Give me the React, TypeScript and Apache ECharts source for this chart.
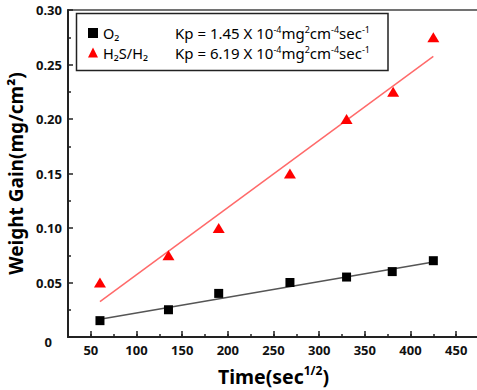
import React, { useEffect, useRef } from "react";
import * as echarts from "echarts";

const seriesNames = ["O\u2082", "H\u2082S/H\u2082"];
const kpCoefficients = ["1.45", "6.19"];

const o2Time = [60, 135, 190, 268, 330, 380, 425];
const o2Gain = [0.015, 0.025, 0.04, 0.05, 0.055, 0.06, 0.07];
const h2sTime = [60, 135, 190, 268, 330, 381, 425];
const h2sGain = [0.05, 0.075, 0.1, 0.15, 0.2, 0.225, 0.275];

const o2FitTime = [60, 425];
const o2FitGain = [0.0162, 0.0688];
const h2sFitTime = [60, 425];
const h2sFitGain = [0.0325, 0.2575];

const xMajorTicks = [50, 100, 150, 200, 250, 300, 350, 400, 450];

const FONT = "'Noto Sans', 'DejaVu Sans', sans-serif";

export default function App() {
  const ref = useRef<HTMLDivElement>(null);
  useEffect(() => {
    if (!ref.current) return;
    const chart = echarts.init(ref.current, null, { renderer: "svg" });
    const zip = (a: number[], b: number[]) => a.map((v, i) => [v, b[i]]);
    const kpMap: Record<string, string> = {};
    seriesNames.forEach((n, i) => (kpMap[n] = kpCoefficients[i]));
    const tok = { fontFamily: FONT, color: "#000", lineHeight: 16 };
    chart.setOption({
      animation: false,
      backgroundColor: "#fff",
      textStyle: { fontFamily: FONT },
      grid: {
        left: 68,
        top: 10,
        width: 411,
        height: 327,
        show: true,
        borderColor: "#444",
        borderWidth: 1.5,
        containLabel: false,
        outerBoundsMode: "none",
      },
      legend: {
        orient: "vertical",
        left: 88,
        top: 25,
        padding: 0,
        itemWidth: 10,
        itemHeight: 10,
        itemGap: 4,
        data: seriesNames,
        formatter: (name: string) =>
          `{n|${name}}{k|Kp = ${kpMap[name]} X 10}{s|-4}{k|mg}{s|2}{k|cm}{s|-4}{k|sec}{s|-1}`,
        textStyle: {
          fontFamily: FONT,
          fontSize: 14,
          color: "#000",
          rich: {
            n: { ...tok, width: 72, fontSize: 14.5 },
            k: { ...tok, fontSize: 15 },
            s: { ...tok, fontSize: 9, verticalAlign: "top", lineHeight: 16 },
          },
        },
      },
      graphic: [
        {
          type: "rect",
          shape: { x: 76.5, y: 13.5, width: 311.5, height: 57 },
          style: { fill: "none", stroke: "#222", lineWidth: 1.5 },
          z: 10,
        },
      ],
      xAxis: [
        {
          type: "value",
          min: 25,
          max: 475,
          interval: 25,
          name: "{t|Time(sec}{s|1/2}{t|)}",
          nameLocation: "middle",
          nameGap: 27,
          nameTextStyle: {
            rich: {
              t: { fontSize: 19.5, fontWeight: "bold", fontFamily: FONT, color: "#000", lineHeight: 24 },
              s: { fontSize: 12, fontWeight: "bold", fontFamily: FONT, color: "#000", lineHeight: 24, verticalAlign: "top" },
            },
          },
          axisLine: { show: true, lineStyle: { color: "#222", width: 2 } },
          axisTick: { show: true, inside: true, length: 3, lineStyle: { color: "#222", width: 1.5 } },
          axisLabel: {
            margin: 6,
            fontSize: 13,
            fontWeight: "bold",
            color: "#111",
            fontFamily: FONT,
            formatter: (v: number) => (v % 50 === 0 ? String(v) : ""),
          },
          splitLine: { show: false },
        },
        {
          type: "value",
          position: "bottom",
          min: 25,
          max: 475,
          interval: 25,
          axisLine: { show: false },
          axisTick: {
            show: true,
            inside: true,
            length: 6,
            customValues: xMajorTicks,
            lineStyle: { color: "#222", width: 1.5 },
          },
          axisLabel: { show: false },
          splitLine: { show: false },
        },
      ],
      yAxis: {
        type: "value",
        min: 0,
        max: 0.3,
        interval: 0.05,
        name: "Weight Gain(mg/cm\u00B2)",
        nameLocation: "middle",
        nameGap: 36,
        nameRotate: 90,
        nameTextStyle: { fontSize: 19, fontWeight: "bold", color: "#000", fontFamily: FONT },
        axisLine: { show: true, lineStyle: { color: "#222", width: 2 } },
        axisTick: { show: true, inside: true, length: 5, lineStyle: { color: "#222", width: 1.5 } },
        minorTick: { show: true, splitNumber: 2, length: 3, lineStyle: { color: "#222", width: 1.5 } },
        axisLabel: {
          margin: 6,
          fontSize: 13,
          fontWeight: "bold",
          color: "#111",
          fontFamily: FONT,
          formatter: (v: number) => (v === 0 ? "{z|0}" : v.toFixed(2)),
          rich: {
            z: { fontSize: 13, fontWeight: "bold", color: "#111", fontFamily: FONT, padding: [10, 10, 0, 0] },
          },
        },
        splitLine: { show: false },
      },
      series: [
        {
          name: seriesNames[0] + " fit",
          type: "line",
          data: zip(o2FitTime, o2FitGain),
          showSymbol: false,
          lineStyle: { color: "#555", width: 1.5 },
          itemStyle: { color: "#555" },
          silent: true,
        },
        {
          name: seriesNames[1] + " fit",
          type: "line",
          data: zip(h2sFitTime, h2sFitGain),
          showSymbol: false,
          lineStyle: { color: "#ff6a6a", width: 1.5 },
          itemStyle: { color: "#ff6a6a" },
          silent: true,
        },
        {
          name: seriesNames[0],
          type: "scatter",
          symbol: "rect",
          symbolSize: 9,
          data: zip(o2Time, o2Gain),
          itemStyle: { color: "#000", opacity: 1 },
          z: 5,
        },
        {
          name: seriesNames[1],
          type: "scatter",
          symbol: "triangle",
          symbolSize: [12, 10],
          data: zip(h2sTime, h2sGain),
          itemStyle: { color: "#ff0000", opacity: 1 },
          z: 5,
        },
      ],
    });
    return () => chart.dispose();
  }, []);
  return (
    <div
      ref={ref}
      style={{ position: "fixed", left: 0, top: 0, width: 477, height: 390 }}
    />
  );
}
